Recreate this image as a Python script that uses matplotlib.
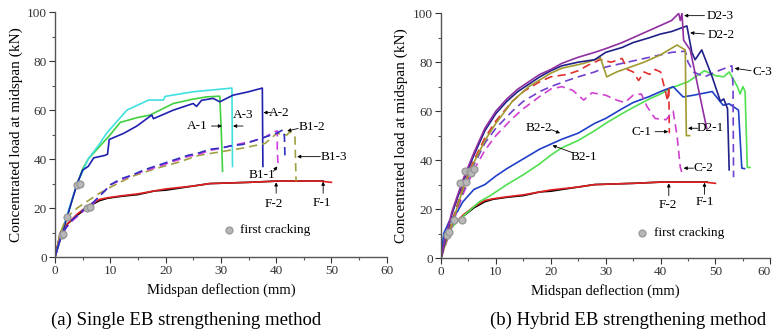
import matplotlib
matplotlib.use("Agg")
import matplotlib.pyplot as plt

plt.rcParams['font.family'] = 'Liberation Serif'

# ---- panel (a): single EB ----
f1_x = [0, 1, 2, 4, 6, 8, 9.5, 12, 15, 18, 20, 25, 28, 35, 40, 48.5]
f1_y = [0, 10, 13, 17, 20.5, 23, 24, 24.8, 25.5, 27, 27.3, 29, 30, 30.5, 31, 31]
f2_x = [0, 1, 2, 4, 6, 8, 9.5, 12, 15, 18, 20, 25, 28, 35, 40, 48, 50]
f2_y = [0, 10, 13, 17.5, 21, 23.5, 24.2, 25, 25.8, 27, 27.8, 29, 30, 30.5, 31, 31, 30.5]

a1_x = [0, 2, 4, 5, 6, 8, 10, 11.8, 15, 17.2, 21.4, 25, 27.4, 29.8, 30.1, 30.3]
a1_y = [0, 15, 30, 36, 40, 45, 50, 55, 57, 58, 62.7, 64.5, 65.4, 65.7, 50, 35]
a3_x = [0, 2, 4, 6, 8, 9.3, 13, 16.9, 19.6, 19.9, 25, 31.6, 32.0, 32.1]
a3_y = [0, 16, 30, 40, 46, 50.5, 60, 64.1, 64.1, 65.6, 67.5, 68.9, 69, 37]
a2_x = [0, 2, 4, 5, 6, 7, 9, 9.5, 9.8, 12.4, 14.8, 17.5, 17.8, 21.4, 25, 25.6, 26.5, 28.6, 29.8,
        32.2, 35, 37.5, 37.6]
a2_y = [0, 15, 30, 35.5, 37, 40.5, 41.5, 42, 48, 50.5, 53.5, 58, 56.5, 60, 62.7, 61.5, 64, 64.8,
        63.4, 66.1, 67.5, 69, 37]

b11_x = [0, 1, 2, 3, 5, 7, 8, 9, 10, 12, 14, 16, 18, 20, 22, 24, 26, 28, 30, 32, 34, 36, 38,
         39.5, 40.2, 40.2, 40.4]
b11_y = [0, 8, 12, 14.5, 18.5, 22, 25, 27, 29.5, 31.5, 33.5, 35, 36.5, 38, 39.5, 41, 42, 43.5,
         44.5, 45.5, 46.5, 47.5, 49, 51, 51.5, 43, 36.5]
b12_x = [0, 1, 2, 3, 5, 7, 9, 10, 12, 14, 16, 18, 20, 22, 24, 26, 28, 30, 32, 34, 36, 38, 40,
         41.3, 41.5, 41.6]
b12_y = [0, 8, 12, 15, 19, 22.5, 27, 29.5, 32, 33.5, 35.5, 37, 38.5, 40, 41.5, 42.5, 44, 44.5,
         45.5, 46, 47.5, 49, 50.5, 52, 49, 39.6]
b13_x = [0, 1, 2, 4, 6, 8, 10, 14, 18, 22, 26, 30, 34, 38, 40.1, 41.9, 42.5, 43.4, 43.6]
b13_y = [0, 10, 16, 20, 23, 26, 28.5, 33, 36, 38.5, 41.5, 43, 44.5, 46.4, 50.5, 49.8, 51.2, 49, 31]

crack_a_x = [1.2, 1.5, 2.1, 3.9, 4.5, 5.7, 6.3]
crack_a_y = [8.9, 9.5, 16.4, 29.3, 30, 20.2, 20.5]

# ---- panel (b): hybrid EB ----
b22_x = [0, 0.5, 1.5, 3, 4, 6, 8, 10, 12, 15, 18, 20, 22, 25, 28, 30, 33, 35, 38, 40, 42.3,
         44.1, 46, 49.4, 51.4, 52.5, 54.2, 54.8, 55.3]
b22_y = [0, 10, 15, 19, 23, 28, 30, 33.5, 36.5, 40.5, 44.5, 46.5, 48.5, 51, 55, 57, 61, 63.5,
         66, 68, 70, 65.8, 66.5, 68, 62.4, 63, 60.4, 36.7, 36.5]
b21_x = [0, 0.5, 1, 2, 3, 5, 7, 9, 10, 12, 15, 18, 20, 22, 25, 28, 30, 33, 35, 38, 40, 42, 45,
         48, 50, 51.5, 52.5, 53, 54, 54.5, 55, 55.4, 55.8, 56.3]
b21_y = [0, 5, 9, 12.5, 15, 19, 23, 25.5, 27, 30, 34, 38.5, 42, 45, 48, 52, 55, 59, 61.5, 65,
         67, 69.5, 72, 76.5, 74.5, 74, 76, 74, 70, 67, 70, 68, 37, 37]
c1_x = [0, 2, 4, 6, 8, 10, 13, 15, 18, 20, 23, 25, 27, 29, 31, 33, 34, 35, 36, 37, 38, 39, 40,
        41, 41.3, 41.5, 41.6]
c1_y = [0, 15, 29, 40, 49, 56, 64, 68, 72, 74, 75, 76.5, 79, 81, 80, 81.5, 77, 76, 72.5, 76,
        75, 77, 76, 67, 64, 70, 51]
c2_x = [0, 2, 4, 6, 8, 10, 13, 15, 18, 20, 22, 24, 26, 27.5, 30, 32, 33.5, 35, 36.5, 37.5, 39,
        41, 42.3, 43, 43.6, 44]
c2_y = [0, 13, 26, 36, 44, 50, 57, 61, 66, 69, 70, 68.5, 64.5, 67.5, 66.5, 64.5, 63.5, 66.5,
        67, 62, 57, 56.5, 60, 50, 37, 34]
c3_x = [0, 2, 4, 6, 8, 10, 13, 15, 18, 20, 23, 25, 28, 30, 33, 35, 38, 40, 42, 44.5, 45, 46,
        48, 50, 52.3, 53, 53.2, 53.3]
c3_y = [0, 14, 27, 38, 47, 53, 60, 64, 68, 70, 72.5, 74, 76, 78, 79.5, 80.5, 82, 83, 84, 84.5,
        80, 76, 74, 76, 78, 78.5, 70, 33]
d21_x = [0, 2, 4, 6, 8, 10, 13, 16, 20, 22, 26, 28.7, 29, 30.2, 32, 34.5, 37, 40, 43, 44.5,
         44.7, 45.3]
d21_y = [0, 14, 28, 39, 48, 55, 64, 70, 75.5, 77.5, 79.5, 81.5, 82, 74, 76, 78, 80, 83, 87,
         85, 50, 50]
d22_x = [0, 1, 2, 4, 6, 8, 10, 12, 14, 16, 18, 20, 22, 25, 28, 30, 33, 35, 38, 40, 42, 44.8,
         45.7, 46.3, 47.5, 49.4, 50.9, 51.5, 52.2, 52.5]
d22_y = [0, 9, 18, 31, 42, 52, 59, 64, 68, 71, 74, 76.5, 78.5, 80, 81, 84, 86, 88, 90, 91.5,
         92.5, 94.8, 84, 81, 85, 74, 64, 65, 61, 36]
d23_x = [0, 1, 2, 4, 6, 8, 10, 12, 14, 16, 18, 20, 22, 25, 28, 30, 33, 35, 37, 39, 40, 42,
         43.3, 43.6, 43.9, 44.2, 45.4, 48.4]
d23_y = [0, 10, 19, 32, 43, 53, 60, 65, 69, 72, 75, 77, 79.5, 82, 84, 85.5, 88, 90, 92, 94,
         95, 97, 99.9, 97, 100, 89, 85, 53]

crack_b_x = [1.1, 1.4, 2.3, 3.8, 3.5, 4.6, 4.3, 5.2, 5.5, 6.0]
crack_b_y = [9.4, 10.5, 15.6, 15.4, 30.6, 30.9, 35.4, 35.4, 34.7, 36.3]

fig = plt.figure(figsize=(7.75, 3.34), dpi=100)
ax1 = fig.add_axes([0.071, 0.2305, 0.428, 0.733])
ax2 = fig.add_axes([0.569, 0.2275, 0.425, 0.733])

lw = 1.2
ax1.plot(f1_x, f1_y, color='black', lw=lw)
ax1.plot(f2_x, f2_y, color='#e02020', lw=lw)
ax1.plot(a1_x, a1_y, color='#40d040', lw=lw)
ax1.plot(a3_x, a3_y, color='#40e0e0', lw=lw)
ax1.plot(a2_x, a2_y, color='#2020b0', lw=lw)
ax1.plot(b13_x, b13_y, color='#a0a040', lw=lw, ls=(0, (5, 3)))
ax1.plot(b11_x, b11_y, color='#d040e0', lw=lw, ls=(0, (5, 3)))
ax1.plot(b12_x, b12_y, color='#3030c0', lw=lw, ls=(0, (5, 3)))
ax1.scatter(crack_a_x, crack_a_y, s=24, color='#b8b8b8', edgecolors='#999999', zorder=5)

ax2.plot(f1_x, f1_y, color='black', lw=lw)
ax2.plot(f2_x, f2_y, color='#e02020', lw=lw)
ax2.plot(b21_x, b21_y, color='#50e050', lw=lw)
ax2.plot(b22_x, b22_y, color='#2040c8', lw=lw)
ax2.plot(c1_x, c1_y, color='#e03030', lw=lw, ls=(0, (5, 3)))
ax2.plot(c2_x, c2_y, color='#d040d0', lw=lw, ls=(0, (5, 3)))
ax2.plot(c3_x, c3_y, color='#7040d0', lw=lw, ls=(0, (5, 3)))
ax2.plot(d21_x, d21_y, color='#a09a30', lw=lw)
ax2.plot(d22_x, d22_y, color='#20208a', lw=lw)
ax2.plot(d23_x, d23_y, color='#9030a0', lw=lw)
ax2.scatter(crack_b_x, crack_b_y, s=24, color='#b8b8b8', edgecolors='#999999', zorder=5)

arrow = dict(arrowstyle='-|>', lw=0.6, color='black', mutation_scale=5, shrinkA=0, shrinkB=0)


def tag(ax, text, xy, head, tail):
    ax.text(xy[0], xy[1], text, fontsize=9.5, ha='center', va='center')
    ax.annotate('', xy=head, xytext=tail, arrowprops=arrow)


# panel (a) labels
tag(ax1, 'A-1', (25.7, 53.5), (30.2, 53.5), (28.3, 53.5))
tag(ax1, 'A-3', (34.0, 58.0), (32.2, 53.5), (34.0, 53.5))
tag(ax1, 'A-2', (40.5, 59.0), (37.7, 59.0), (39.0, 59.0))
tag(ax1, 'B1-2', (46.5, 53.0), (42.0, 51.5), (44.0, 52.5))
tag(ax1, 'B1-3', (50.5, 41.0), (43.8, 41.0), (48.0, 41.0))
tag(ax1, 'B1-1', (37.5, 33.5), (40.2, 37.0), (39.5, 35.0))
tag(ax1, 'F-2', (39.5, 21.5), (40.0, 30.5), (40.0, 26.0))
tag(ax1, 'F-1', (48.3, 22.0), (48.5, 30.8), (48.5, 26.0))
ax1.scatter([31.5], [11], s=24, color='#b8b8b8', edgecolors='#999999')
ax1.text(33.5, 11, 'first cracking', fontsize=9.5, va='center')

# panel (b) labels
tag(ax2, 'D2-3', (50.8, 98.8), (44.3, 99.0), (48.0, 99.0))
tag(ax2, 'D2-2', (51.0, 91.0), (45.4, 92.0), (48.0, 91.5))
tag(ax2, 'C-3', (58.5, 76.0), (53.5, 77.5), (56.5, 76.5))
tag(ax2, 'D2-1', (49.0, 53.0), (45.0, 53.0), (46.8, 53.0))
tag(ax2, 'C-1', (36.5, 51.6), (41.4, 51.6), (39.0, 51.6))
tag(ax2, 'C-2', (47.8, 36.7), (44.2, 36.7), (46.0, 36.7))
tag(ax2, 'B2-2', (17.8, 53.0), (21.7, 51.0), (20.0, 52.5))
tag(ax2, 'B2-1', (26.0, 41.4), (20.3, 46.0), (24.0, 43.0))
tag(ax2, 'F-2', (41.4, 21.6), (41.5, 30.5), (41.5, 25.5))
tag(ax2, 'F-1', (48.1, 23.0), (48.0, 30.8), (48.0, 26.0))
ax2.scatter([36.6], [10.2], s=24, color='#b8b8b8', edgecolors='#999999')
ax2.text(38.8, 10.2, 'first cracking', fontsize=9.5, va='center')

for ax in (ax1, ax2):
    ax.set_xlim(0, 60)
    ax.set_ylim(0, 100)
    ax.set_xticks(range(0, 61, 10))
    ax.set_xticks(range(5, 60, 10), minor=True)
    ax.set_yticks(range(0, 101, 20))
    ax.set_yticks(range(10, 100, 20), minor=True)
    ax.spines['top'].set_visible(False)
    ax.spines['right'].set_visible(False)
    for s in ('left', 'bottom'):
        ax.spines[s].set_color('#555555')
        ax.spines[s].set_linewidth(1.0)
    ax.tick_params(which='major', direction='out', length=4, width=0.8, labelsize=9.5,
                   colors='#333333', pad=2)
    ax.tick_params(which='minor', direction='out', length=2.5, width=0.8, colors='#555555')
    ax.set_xlabel('Midspan deflection (mm)', fontsize=10.5, labelpad=4)
    ax.set_ylabel('Concentrated load at midspan (kN)', fontsize=11, labelpad=3)

# the right-most "60" is clipped by the image edge in the original as well
ax2.get_xticklabels()[-1].set_horizontalalignment('right')

fig.text(0.24, 0.042, '(a) Single EB strengthening method', fontsize=13.5, ha='center',
         va='center')
fig.text(0.81, 0.042, '(b) Hybrid EB strengthening method', fontsize=13.5, ha='center',
         va='center')

fig.savefig('out.png', dpi=100)
